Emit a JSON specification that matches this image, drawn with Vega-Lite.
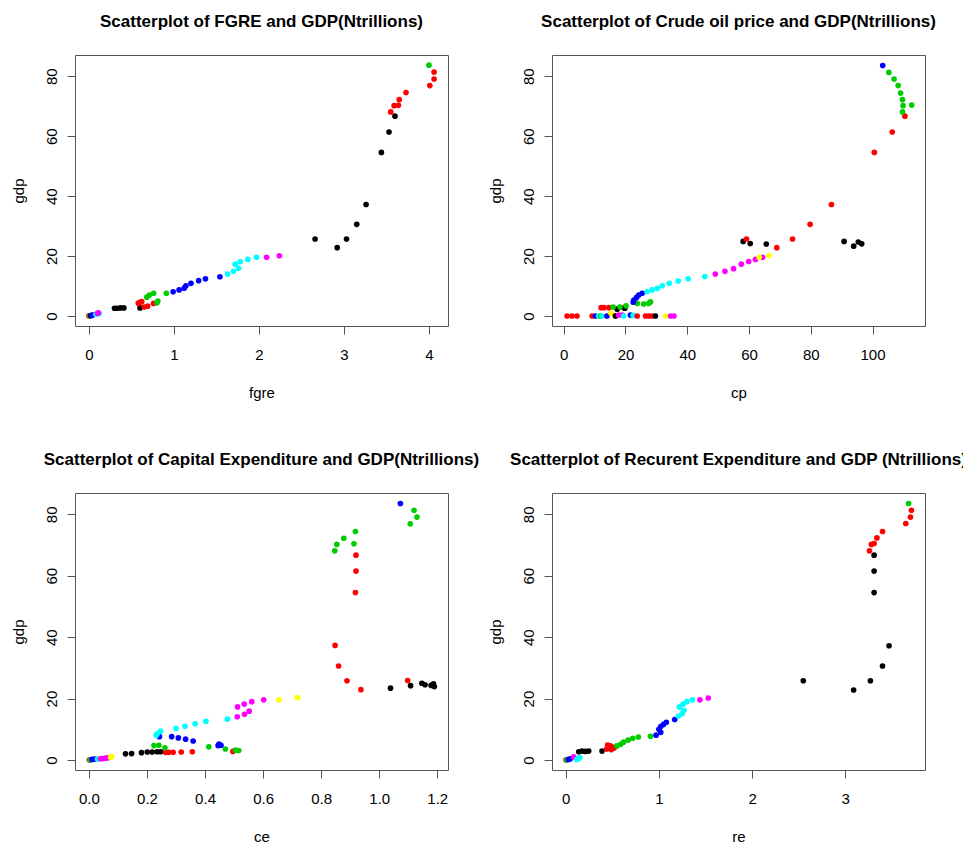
{
  "$schema": "https://vega.github.io/schema/vega-lite/v6.json",
  "background": "white",
  "padding": {"left": 10, "top": 12, "right": 0, "bottom": 0},
  "columns": 2,
  "align": "each",
  "bounds": "flush",
  "spacing": {"row": 167, "column": 104},
  "config": {
    "view": {"stroke": "#555555", "strokeWidth": 1},
    "font": "Liberation Sans",
    "axis": {"domain": false, "grid": false, "tickColor": "#555555", "tickSize": 8, "tickWidth": 1,
      "labelFont": "Liberation Sans", "labelFontSize": 15, "labelColor": "#000000",
      "titleFont": "Liberation Sans", "titleFontSize": 15, "titleFontWeight": "normal", "titleColor": "#000000",
      "labelFlush": false, "labelOverlap": false},
    "axisX": {"labelPadding": 20, "labelBaseline": "middle", "labelAlign": "center"},
    "axisY": {"labelAngle": -90, "labelAlign": "center", "labelBaseline": "middle", "labelPadding": 16},
    "title": {"fontSize": 17, "fontWeight": "bold", "font": "Liberation Sans", "color": "#000000", "anchor": "middle", "offset": 24},
    "circle": {"size": 32, "opacity": 1}
  },
  "datasets": {
    "p1": [
      {"fgre":0.00,"gdp":0.0,"c":8},{"fgre":0.00,"gdp":0.05,"c":2},{"fgre":0.01,"gdp":0.1,"c":3},{"fgre":0.02,"gdp":0.15,"c":1},{"fgre":0.03,"gdp":0.2,"c":4},{"fgre":0.05,"gdp":0.4,"c":4},{"fgre":0.08,"gdp":0.6,"c":5},{"fgre":0.12,"gdp":0.8,"c":5},{"fgre":0.10,"gdp":0.9,"c":6},{"fgre":0.11,"gdp":1.1,"c":6},
      {"fgre":0.30,"gdp":2.6,"c":1},{"fgre":0.33,"gdp":2.6,"c":1},{"fgre":0.37,"gdp":2.7,"c":1},{"fgre":0.41,"gdp":2.7,"c":1},{"fgre":0.60,"gdp":2.7,"c":1},
      {"fgre":0.65,"gdp":3.0,"c":2},{"fgre":0.69,"gdp":3.3,"c":2},{"fgre":0.58,"gdp":4.3,"c":2},{"fgre":0.62,"gdp":4.8,"c":2},{"fgre":0.60,"gdp":4.6,"c":2},{"fgre":0.76,"gdp":4.2,"c":2},
      {"fgre":0.80,"gdp":4.4,"c":3},{"fgre":0.81,"gdp":5.0,"c":3},{"fgre":0.68,"gdp":6.3,"c":3},{"fgre":0.71,"gdp":7.0,"c":3},{"fgre":0.76,"gdp":7.6,"c":3},{"fgre":0.91,"gdp":7.6,"c":3},
      {"fgre":0.99,"gdp":8.1,"c":4},{"fgre":1.06,"gdp":8.7,"c":4},{"fgre":1.12,"gdp":9.3,"c":4},{"fgre":1.14,"gdp":10.1,"c":4},{"fgre":1.20,"gdp":10.9,"c":4},{"fgre":1.29,"gdp":11.8,"c":4},{"fgre":1.37,"gdp":12.4,"c":4},{"fgre":1.54,"gdp":13.1,"c":4},
      {"fgre":1.63,"gdp":14.0,"c":5},{"fgre":1.70,"gdp":14.9,"c":5},{"fgre":1.76,"gdp":15.9,"c":5},{"fgre":1.72,"gdp":17.3,"c":5},{"fgre":1.78,"gdp":18.1,"c":5},{"fgre":1.87,"gdp":18.9,"c":5},{"fgre":1.97,"gdp":19.6,"c":5},
      {"fgre":2.09,"gdp":19.6,"c":6},{"fgre":2.24,"gdp":20.1,"c":6},
      {"fgre":2.66,"gdp":25.7,"c":1},{"fgre":2.92,"gdp":22.8,"c":1},{"fgre":3.03,"gdp":25.7,"c":1},{"fgre":3.15,"gdp":30.6,"c":1},{"fgre":3.26,"gdp":37.2,"c":1},{"fgre":3.44,"gdp":54.6,"c":1},{"fgre":3.53,"gdp":61.4,"c":1},{"fgre":3.60,"gdp":66.7,"c":1},
      {"fgre":3.55,"gdp":68.1,"c":2},{"fgre":3.59,"gdp":70.2,"c":2},{"fgre":3.64,"gdp":70.3,"c":2},{"fgre":3.65,"gdp":72.2,"c":2},{"fgre":3.73,"gdp":74.6,"c":2},{"fgre":4.01,"gdp":76.9,"c":2},{"fgre":4.06,"gdp":79.1,"c":2},{"fgre":4.06,"gdp":81.4,"c":2},
      {"fgre":4.00,"gdp":83.7,"c":3}
    ],
    "p2": [
      {"cp":1.1,"gdp":0.0,"c":2},{"cp":2.7,"gdp":0.0,"c":2},{"cp":4.3,"gdp":0.0,"c":2},{"cp":9.2,"gdp":0.0,"c":2},{"cp":10.3,"gdp":0.0,"c":4},{"cp":11.3,"gdp":0.0,"c":5},{"cp":11.9,"gdp":0.0,"c":3},{"cp":12.4,"gdp":0.0,"c":5},{"cp":14.0,"gdp":0.0,"c":4},{"cp":15.3,"gdp":0.9,"c":7},{"cp":16.7,"gdp":0.1,"c":2},{"cp":16.8,"gdp":0.0,"c":1},{"cp":17.8,"gdp":0.3,"c":6},{"cp":18.9,"gdp":0.3,"c":6},{"cp":19.4,"gdp":0.0,"c":5},{"cp":21.6,"gdp":0.3,"c":4},{"cp":22.5,"gdp":0.2,"c":5},{"cp":23.8,"gdp":0.0,"c":2},{"cp":26.5,"gdp":0.0,"c":2},{"cp":27.6,"gdp":0.0,"c":2},{"cp":28.6,"gdp":0.0,"c":2},{"cp":29.7,"gdp":0.0,"c":1},{"cp":32.9,"gdp":0.0,"c":7},{"cp":34.6,"gdp":0.0,"c":6},{"cp":35.7,"gdp":0.0,"c":6},
      {"cp":12.1,"gdp":2.8,"c":2},{"cp":13.0,"gdp":2.8,"c":2},{"cp":14.6,"gdp":2.8,"c":2},{"cp":19.4,"gdp":2.8,"c":2},{"cp":17.3,"gdp":2.3,"c":1},{"cp":19.8,"gdp":2.6,"c":1},
      {"cp":16.0,"gdp":3.0,"c":3},{"cp":18.2,"gdp":3.0,"c":3},{"cp":20.2,"gdp":3.4,"c":3},
      {"cp":23.8,"gdp":4.2,"c":3},{"cp":25.9,"gdp":4.0,"c":3},{"cp":27.5,"gdp":4.2,"c":3},{"cp":28.1,"gdp":4.7,"c":3},
      {"cp":22.5,"gdp":4.6,"c":4},{"cp":22.7,"gdp":5.3,"c":4},{"cp":23.6,"gdp":6.2,"c":4},{"cp":24.3,"gdp":7.0,"c":4},{"cp":25.4,"gdp":7.6,"c":4},
      {"cp":27.0,"gdp":8.1,"c":5},{"cp":28.6,"gdp":8.7,"c":5},{"cp":30.3,"gdp":9.2,"c":5},{"cp":31.9,"gdp":10.1,"c":5},{"cp":34.2,"gdp":10.9,"c":5},{"cp":37.1,"gdp":11.7,"c":5},{"cp":40.3,"gdp":12.4,"c":5},{"cp":45.7,"gdp":13.2,"c":5},
      {"cp":49.1,"gdp":14.0,"c":6},{"cp":52.2,"gdp":14.9,"c":6},{"cp":55.0,"gdp":15.8,"c":6},{"cp":57.5,"gdp":17.3,"c":6},{"cp":59.9,"gdp":18.2,"c":6},{"cp":62.1,"gdp":18.9,"c":6},{"cp":64.4,"gdp":19.6,"c":6},
      {"cp":63.3,"gdp":19.6,"c":7},{"cp":66.5,"gdp":20.2,"c":7},
      {"cp":58.1,"gdp":24.9,"c":1},{"cp":60.4,"gdp":24.2,"c":1},{"cp":65.6,"gdp":24.0,"c":1},{"cp":90.8,"gdp":24.9,"c":1},{"cp":93.9,"gdp":23.3,"c":1},{"cp":95.4,"gdp":24.7,"c":1},{"cp":96.5,"gdp":24.1,"c":1},
      {"cp":59.2,"gdp":25.7,"c":2},{"cp":69.0,"gdp":22.8,"c":2},{"cp":74.1,"gdp":25.7,"c":2},{"cp":79.8,"gdp":30.6,"c":2},{"cp":86.7,"gdp":37.2,"c":2},{"cp":100.6,"gdp":54.6,"c":2},{"cp":106.4,"gdp":61.4,"c":2},{"cp":110.5,"gdp":66.7,"c":2},
      {"cp":109.7,"gdp":68.1,"c":3},{"cp":109.9,"gdp":70.2,"c":3},{"cp":112.7,"gdp":70.4,"c":3},{"cp":109.7,"gdp":72.2,"c":3},{"cp":109.1,"gdp":74.4,"c":3},{"cp":108.3,"gdp":76.9,"c":3},{"cp":107.0,"gdp":79.1,"c":3},{"cp":105.3,"gdp":81.3,"c":3},
      {"cp":103.3,"gdp":83.6,"c":4}
    ],
    "p3": [
      {"ce":0.0,"gdp":0.0,"c":8},{"ce":0.003,"gdp":0.05,"c":2},{"ce":0.005,"gdp":0.1,"c":3},{"ce":0.011,"gdp":0.2,"c":4},{"ce":0.02,"gdp":0.3,"c":4},{"ce":0.029,"gdp":0.3,"c":5},{"ce":0.04,"gdp":0.4,"c":6},{"ce":0.046,"gdp":0.5,"c":6},{"ce":0.057,"gdp":0.6,"c":6},{"ce":0.065,"gdp":0.7,"c":6},{"ce":0.075,"gdp":0.9,"c":7},{"ce":0.078,"gdp":1.1,"c":7},
      {"ce":0.126,"gdp":2.0,"c":1},{"ce":0.147,"gdp":2.1,"c":1},{"ce":0.181,"gdp":2.4,"c":1},{"ce":0.201,"gdp":2.6,"c":1},{"ce":0.218,"gdp":2.6,"c":1},{"ce":0.235,"gdp":2.7,"c":1},{"ce":0.247,"gdp":2.7,"c":1},
      {"ce":0.264,"gdp":2.5,"c":2},{"ce":0.275,"gdp":2.5,"c":2},{"ce":0.29,"gdp":2.5,"c":2},{"ce":0.318,"gdp":2.6,"c":2},{"ce":0.356,"gdp":2.7,"c":2},{"ce":0.496,"gdp":2.8,"c":2},
      {"ce":0.224,"gdp":4.7,"c":3},{"ce":0.241,"gdp":4.8,"c":3},{"ce":0.262,"gdp":4.0,"c":3},{"ce":0.413,"gdp":4.3,"c":3},{"ce":0.47,"gdp":3.6,"c":3},{"ce":0.505,"gdp":3.2,"c":3},{"ce":0.516,"gdp":3.1,"c":3},
      {"ce":0.448,"gdp":5.2,"c":4},{"ce":0.455,"gdp":4.8,"c":4},{"ce":0.445,"gdp":4.7,"c":4},{"ce":0.243,"gdp":7.6,"c":4},{"ce":0.285,"gdp":7.6,"c":4},{"ce":0.308,"gdp":7.2,"c":4},{"ce":0.333,"gdp":6.8,"c":4},{"ce":0.359,"gdp":6.2,"c":4},
      {"ce":0.232,"gdp":8.1,"c":5},{"ce":0.236,"gdp":8.6,"c":5},{"ce":0.247,"gdp":9.4,"c":5},{"ce":0.30,"gdp":10.3,"c":5},{"ce":0.331,"gdp":11.0,"c":5},{"ce":0.366,"gdp":11.8,"c":5},{"ce":0.403,"gdp":12.6,"c":5},{"ce":0.477,"gdp":13.3,"c":5},
      {"ce":0.511,"gdp":14.1,"c":6},{"ce":0.536,"gdp":14.9,"c":6},{"ce":0.552,"gdp":15.9,"c":6},{"ce":0.512,"gdp":17.3,"c":6},{"ce":0.535,"gdp":18.2,"c":6},{"ce":0.561,"gdp":19.0,"c":6},{"ce":0.602,"gdp":19.6,"c":6},
      {"ce":0.655,"gdp":19.6,"c":7},{"ce":0.718,"gdp":20.3,"c":7},
      {"ce":0.848,"gdp":37.3,"c":2},{"ce":0.86,"gdp":30.6,"c":2},{"ce":0.889,"gdp":25.8,"c":2},{"ce":0.937,"gdp":22.9,"c":2},{"ce":1.098,"gdp":25.9,"c":2},{"ce":0.918,"gdp":54.5,"c":2},{"ce":0.92,"gdp":61.5,"c":2},{"ce":0.92,"gdp":66.7,"c":2},
      {"ce":1.039,"gdp":23.4,"c":1},{"ce":1.108,"gdp":24.2,"c":1},{"ce":1.147,"gdp":25.0,"c":1},{"ce":1.158,"gdp":24.5,"c":1},{"ce":1.179,"gdp":24.3,"c":1},{"ce":1.187,"gdp":24.8,"c":1},{"ce":1.19,"gdp":23.9,"c":1},
      {"ce":0.847,"gdp":68.1,"c":3},{"ce":0.854,"gdp":70.2,"c":3},{"ce":0.913,"gdp":70.4,"c":3},{"ce":0.878,"gdp":72.2,"c":3},{"ce":0.918,"gdp":74.4,"c":3},{"ce":1.107,"gdp":76.9,"c":3},{"ce":1.13,"gdp":79.1,"c":3},{"ce":1.12,"gdp":81.3,"c":3},
      {"ce":1.073,"gdp":83.5,"c":4}
    ],
    "p4": [
      {"re":0.0,"gdp":0.0,"c":8},{"re":0.005,"gdp":0.05,"c":2},{"re":0.01,"gdp":0.1,"c":3},{"re":0.03,"gdp":0.2,"c":4},{"re":0.05,"gdp":0.4,"c":4},{"re":0.086,"gdp":1.0,"c":6},{"re":0.12,"gdp":0.2,"c":5},{"re":0.14,"gdp":0.5,"c":5},{"re":0.15,"gdp":0.8,"c":5},
      {"re":0.14,"gdp":2.7,"c":1},{"re":0.175,"gdp":2.9,"c":1},{"re":0.21,"gdp":2.8,"c":1},{"re":0.247,"gdp":2.9,"c":1},{"re":0.39,"gdp":2.9,"c":1},
      {"re":0.44,"gdp":3.6,"c":2},{"re":0.46,"gdp":4.3,"c":2},{"re":0.47,"gdp":3.8,"c":2},{"re":0.48,"gdp":4.6,"c":2},{"re":0.50,"gdp":4.2,"c":2},{"re":0.52,"gdp":3.9,"c":2},{"re":0.45,"gdp":4.9,"c":2},{"re":0.49,"gdp":3.4,"c":2},
      {"re":0.55,"gdp":4.6,"c":3},{"re":0.59,"gdp":5.1,"c":3},{"re":0.62,"gdp":5.8,"c":3},{"re":0.67,"gdp":6.5,"c":3},{"re":0.72,"gdp":7.1,"c":3},{"re":0.78,"gdp":7.5,"c":3},{"re":0.91,"gdp":7.7,"c":3},
      {"re":0.97,"gdp":8.1,"c":4},{"re":1.02,"gdp":9.0,"c":4},{"re":1.00,"gdp":10.0,"c":4},{"re":1.02,"gdp":10.9,"c":4},{"re":1.05,"gdp":11.6,"c":4},{"re":1.08,"gdp":12.3,"c":4},{"re":1.17,"gdp":13.2,"c":4},
      {"re":1.21,"gdp":14.3,"c":5},{"re":1.25,"gdp":15.1,"c":5},{"re":1.27,"gdp":16.2,"c":5},{"re":1.22,"gdp":17.3,"c":5},{"re":1.26,"gdp":18.2,"c":5},{"re":1.30,"gdp":19.0,"c":5},{"re":1.36,"gdp":19.6,"c":5},
      {"re":1.44,"gdp":19.6,"c":6},{"re":1.53,"gdp":20.2,"c":6},
      {"re":2.55,"gdp":25.8,"c":1},{"re":3.09,"gdp":22.8,"c":1},{"re":3.27,"gdp":25.8,"c":1},{"re":3.40,"gdp":30.6,"c":1},{"re":3.47,"gdp":37.2,"c":1},{"re":3.31,"gdp":54.5,"c":1},{"re":3.31,"gdp":61.5,"c":1},{"re":3.31,"gdp":66.7,"c":1},
      {"re":3.26,"gdp":68.1,"c":2},{"re":3.28,"gdp":70.2,"c":2},{"re":3.31,"gdp":70.5,"c":2},{"re":3.34,"gdp":72.3,"c":2},{"re":3.40,"gdp":74.4,"c":2},{"re":3.65,"gdp":77.0,"c":2},{"re":3.70,"gdp":79.1,"c":2},{"re":3.71,"gdp":81.3,"c":2},
      {"re":3.68,"gdp":83.5,"c":3}
    ]
  },
  "concat": [
    {
      "title": "Scatterplot of FGRE and GDP(Ntrillions)",
      "width": 373, "height": 271,
      "data": {"name": "p1"},
      "mark": {"type": "circle"},
      "encoding": {
        "x": {"field": "fgre", "type": "quantitative", "scale": {"domain": [-0.165, 4.224], "nice": false, "zero": false}, "axis": {"values": [0,1,2,3,4], "title": "fgre", "titleY": 66, "titleBaseline": "middle"}},
        "y": {"field": "gdp", "type": "quantitative", "scale": {"domain": [-3.33, 87.1], "nice": false, "zero": false}, "axis": {"values": [0,20,40,60,80], "title": "gdp", "titleX": -57, "titleBaseline": "middle"}},
        "color": {"field": "c", "type": "nominal", "scale": {"domain": [1,2,3,4,5,6,7,8], "range": ["#000000","#FF0000","#00CD00","#0000FF","#00FFFF","#FF00FF","#FFFF00","#BEBEBE"]}, "legend": null}
      }
    },
    {
      "title": "Scatterplot of Crude oil price and GDP(Ntrillions)",
      "width": 373, "height": 271,
      "data": {"name": "p2"},
      "mark": {"type": "circle"},
      "encoding": {
        "x": {"field": "cp", "type": "quantitative", "scale": {"domain": [-3.8, 117.0], "nice": false, "zero": false}, "axis": {"values": [0,20,40,60,80,100], "title": "cp", "titleY": 66, "titleBaseline": "middle"}},
        "y": {"field": "gdp", "type": "quantitative", "scale": {"domain": [-3.33, 87.1], "nice": false, "zero": false}, "axis": {"values": [0,20,40,60,80], "title": "gdp", "titleX": -57, "titleBaseline": "middle"}},
        "color": {"field": "c", "type": "nominal", "scale": {"domain": [1,2,3,4,5,6,7,8], "range": ["#000000","#FF0000","#00CD00","#0000FF","#00FFFF","#FF00FF","#FFFF00","#BEBEBE"]}, "legend": null}
      }
    },
    {
      "title": "Scatterplot of Capital Expenditure and GDP(Ntrillions)",
      "width": 373, "height": 277,
      "data": {"name": "p3"},
      "mark": {"type": "circle"},
      "encoding": {
        "x": {"field": "ce", "type": "quantitative", "scale": {"domain": [-0.048, 1.237], "nice": false, "zero": false}, "axis": {"values": [0,0.2,0.4,0.6,0.8,1.0,1.2], "format": ".1f", "title": "ce", "titleY": 66, "titleBaseline": "middle"}},
        "y": {"field": "gdp", "type": "quantitative", "scale": {"domain": [-3.25, 86.93], "nice": false, "zero": false}, "axis": {"values": [0,20,40,60,80], "title": "gdp", "titleX": -57, "titleBaseline": "middle"}},
        "color": {"field": "c", "type": "nominal", "scale": {"domain": [1,2,3,4,5,6,7,8], "range": ["#000000","#FF0000","#00CD00","#0000FF","#00FFFF","#FF00FF","#FFFF00","#BEBEBE"]}, "legend": null}
      }
    },
    {
      "title": "Scatterplot of Recurent Expenditure and GDP (Ntrillions)",
      "width": 373, "height": 277,
      "data": {"name": "p4"},
      "mark": {"type": "circle"},
      "encoding": {
        "x": {"field": "re", "type": "quantitative", "scale": {"domain": [-0.147, 3.856], "nice": false, "zero": false}, "axis": {"values": [0,1,2,3], "title": "re", "titleY": 66, "titleBaseline": "middle"}},
        "y": {"field": "gdp", "type": "quantitative", "scale": {"domain": [-3.25, 86.93], "nice": false, "zero": false}, "axis": {"values": [0,20,40,60,80], "title": "gdp", "titleX": -57, "titleBaseline": "middle"}},
        "color": {"field": "c", "type": "nominal", "scale": {"domain": [1,2,3,4,5,6,7,8], "range": ["#000000","#FF0000","#00CD00","#0000FF","#00FFFF","#FF00FF","#FFFF00","#BEBEBE"]}, "legend": null}
      }
    }
  ]
}
